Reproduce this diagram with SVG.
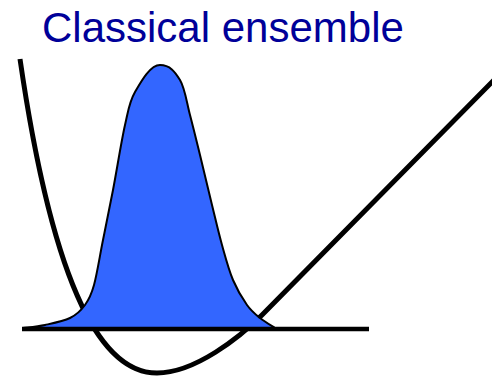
<svg xmlns="http://www.w3.org/2000/svg" width="492" height="376" viewBox="0 0 492 376">
  <style>
    .title { font-family: "Liberation Sans", Arial, sans-serif; font-size: 42px; fill: #000099; }
    .potential { fill: none; stroke: #000000; stroke-width: 5; stroke-linejoin: round; }
    .gauss { fill: #3366FF; stroke: #000000; stroke-width: 2; stroke-linejoin: round; }
    .axis { stroke: #000000; stroke-width: 4.5; }
  </style>
  <rect width="492" height="376" fill="#ffffff"/>
  <g id="title">
    <text class="title" x="42" y="42">Classical ensemble</text>
  </g>
  <g id="potential">
    <path class="potential" d="M20,59 C55,300 105,373 157,373 C195,373 240,337 262,315 L496,78"/>
  </g>
  <g id="ensemble">
    <path class="gauss" d="M23,328 C26.7,327.5 37.2,326.7 45,325 C52.8,323.3 63.3,321.3 70,318 C76.7,314.7 81,310.5 85,305 C89,299.5 91,295.8 94,285 C97,274.2 99.8,255.8 103,240 C106.2,224.2 109.3,209.2 113,190 C116.7,170.8 121.3,141.3 125,125 C128.7,108.7 129.2,102 135,92 C140.8,82 150,65 160,65 C170,65 175,71.7 180,80 C185,88.3 186.7,102.5 190,115 C193.3,127.5 196.3,140 200,155 C203.7,170 208.3,190 212,205 C215.7,220 218.5,232.5 222,245 C225.5,257.5 228.8,270 233,280 C237.2,290 242.5,298.7 247,305 C251.5,311.3 255.3,314.2 260,318 C264.7,321.8 272.5,326.3 275,328 Z"/>
  </g>
  <g id="connectors">
    <line class="axis" x1="22" y1="329" x2="369" y2="329"/>
  </g>
</svg>
